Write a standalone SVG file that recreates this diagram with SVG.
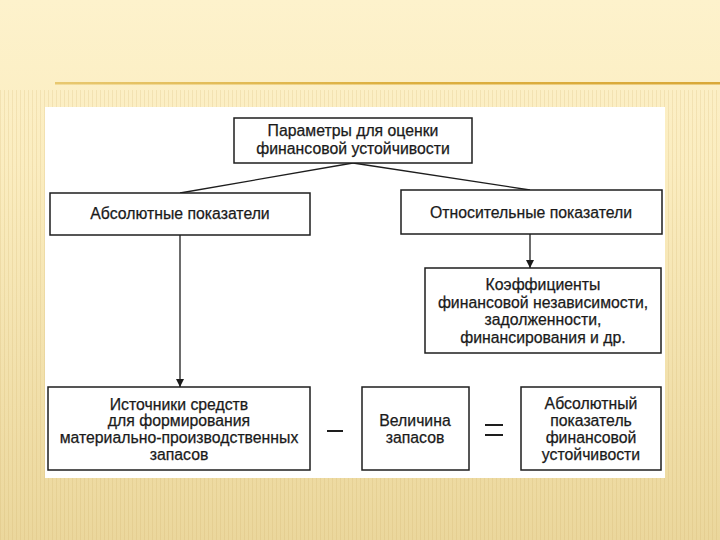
<svg xmlns="http://www.w3.org/2000/svg" width="720" height="540" viewBox="0 0 720 540">
<defs>
<linearGradient id="bg" x1="0" y1="0" x2="0" y2="1">
<stop offset="0" stop-color="#FDF2CC"/>
<stop offset="0.3" stop-color="#FBEDC0"/>
<stop offset="1" stop-color="#EBD79C"/>
</linearGradient>
<linearGradient id="gl" x1="0" y1="0" x2="1" y2="0">
<stop offset="0" stop-color="#E8C870"/>
<stop offset="0.5" stop-color="#DDB040"/>
<stop offset="1" stop-color="#D9A838"/>
</linearGradient>
<pattern id="stripes" width="4" height="540" patternUnits="userSpaceOnUse">
<rect x="0" y="0" width="1" height="540" fill="#C9A860" opacity="0.18"/>
</pattern>
<marker id="ah" viewBox="0 0 10 10" refX="10" refY="5" markerWidth="8" markerHeight="10" markerUnits="userSpaceOnUse" orient="auto">
<path d="M0,0 L10,5 L0,10 z" fill="#1a1a1a"/>
</marker>
</defs>
<style>
.box{fill:#fff;stroke:#1e1e1e;stroke-width:1.5}
.t{font-family:"Liberation Sans",Arial,sans-serif;font-size:15.8px;fill:#1a1a1a;stroke:#1a1a1a;stroke-width:0.25;text-anchor:middle}
.c{stroke:#1e1e1e;stroke-width:1.3;fill:none}
.op{stroke:#1e1e1e;stroke-width:2}
</style>
<rect width="720" height="540" fill="url(#bg)"/>
<rect x="0" y="90" width="720" height="450" fill="url(#stripes)"/>
<rect x="55" y="82" width="665" height="2.5" fill="url(#gl)"/>
<rect x="45" y="107" width="620" height="371" fill="#fff"/>

<g id="connectors">
<line class="c" x1="353" y1="163" x2="180" y2="193"/>
<line class="c" x1="353" y1="163" x2="530" y2="190"/>
<line class="c" x1="530" y1="234" x2="530" y2="268" marker-end="url(#ah)"/>
<line class="c" x1="180" y1="235" x2="180" y2="387" marker-end="url(#ah)"/>
<line class="op" x1="327" y1="431" x2="343" y2="431"/>
<line class="op" x1="485" y1="425" x2="503" y2="425"/>
<line class="op" x1="485" y1="435" x2="503" y2="435"/>
</g>

<g id="top">
<rect class="box" x="234" y="118" width="238" height="45"/>
<text class="t" x="353" y="136">Параметры для оценки</text>
<text class="t" x="353" y="154">финансовой устойчивости</text>
</g>
<g id="abs">
<rect class="box" x="50" y="193" width="260" height="42"/>
<text class="t" x="180" y="219">Абсолютные показатели</text>
</g>
<g id="rel">
<rect class="box" x="401" y="190" width="261" height="44"/>
<text class="t" x="531" y="218">Относительные показатели</text>
</g>
<g id="coef">
<rect class="box" x="425" y="268" width="236" height="85"/>
<text class="t" x="543" y="290">Коэффициенты</text>
<text class="t" x="543" y="308">финансовой независимости,</text>
<text class="t" x="543" y="325">задолженности,</text>
<text class="t" x="543" y="343">финансирования и др.</text>
</g>
<g id="src">
<rect class="box" x="48" y="387" width="262" height="83"/>
<text class="t" x="179" y="410">Источники средств</text>
<text class="t" x="179" y="426">для формирования</text>
<text class="t" x="179" y="443">материально-производственных</text>
<text class="t" x="179" y="460">запасов</text>
</g>
<g id="stock">
<rect class="box" x="362" y="387" width="107" height="83"/>
<text class="t" x="415" y="426">Величина</text>
<text class="t" x="415" y="443">запасов</text>
</g>
<g id="result">
<rect class="box" x="521" y="387" width="140" height="83"/>
<text class="t" x="591" y="409">Абсолютный</text>
<text class="t" x="591" y="426">показатель</text>
<text class="t" x="591" y="443">финансовой</text>
<text class="t" x="591" y="460">устойчивости</text>
</g>
</svg>
